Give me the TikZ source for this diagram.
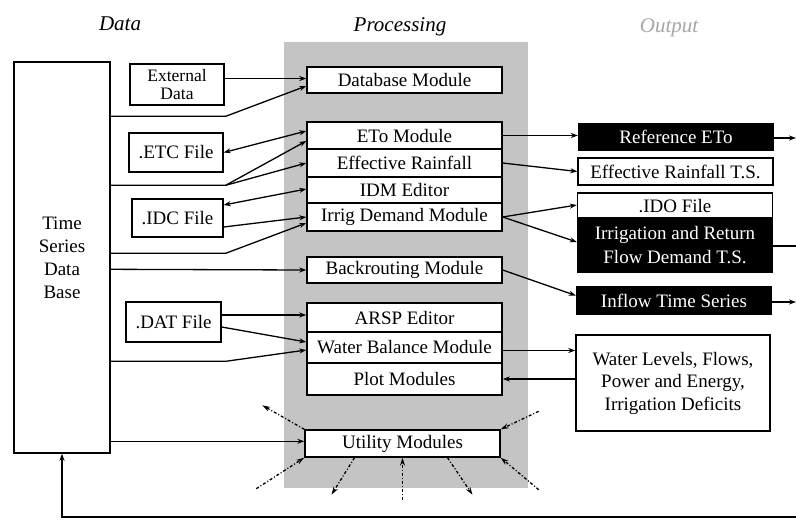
\documentclass[tikz,border=0pt]{standalone}
\usepackage{fontspec}
\setmainfont{Liberation Serif}
\usetikzlibrary{arrows.meta,calc}
\definecolor{panelgray}{RGB}{196,196,196}
\begin{document}
\begin{tikzpicture}[x=1pt,y=-1pt,
  box/.style={draw, line width=1.4pt, fill=white, inner sep=0pt, align=center, font=\fontsize{19}{23}\selectfont},
  mod/.style={box, minimum width=195pt},
  outw/.style={box, minimum width=195pt},
  outb/.style={box, fill=black, text=white, minimum width=195pt},
  arr/.style={line width=1.3pt, -{Stealth[length=7pt,width=5pt]}},
  arrb/.style={line width=1.3pt, {Stealth[length=7pt,width=5pt]}-{Stealth[length=7pt,width=5pt]}},
  darr/.style={line width=1.3pt, dash pattern=on 3pt off 2pt on 1pt off 2pt, -{Stealth[length=8pt,width=5pt]}},
  ttl/.style={font=\fontsize{21}{24}\selectfont\itshape}
]
\useasboundingbox (0,0) rectangle (796,520);
\fill[white] (0,0) rectangle (796,520);

% processing panel
\node[fill=panelgray, minimum width=244pt, minimum height=446pt, inner sep=0pt] (panel) at (406,265) {};

% titles
\node[ttl] (tdata) at (120,24) {Data};
\node[ttl] (tproc) at (400,27) {Processing};
\node[ttl, text=black!35] (tout) at (669,28) {Output};

% data column
\node[box, minimum width=96pt, minimum height=391pt] (ts) at (62,257.5) {Time\\Series\\Data\\Base};
\node[box, minimum width=94pt, minimum height=41pt, font=\fontsize{17.5}{18}\selectfont] (ext) at (177,84.5) {External\\Data};
\node[box, minimum width=94pt, minimum height=39pt] (etc) at (176,152.5) {.ETC File};
\node[box, minimum width=91pt, minimum height=38pt] (idc) at (177.5,218) {.IDC File};
\node[box, minimum width=95pt, minimum height=40pt] (dat) at (173.5,322) {.DAT File};

% processing modules
\node[mod, minimum height=26pt] (dbm) at (404.5,80) {Database Module};
\node[mod, minimum height=27pt] (eto) at (404.5,135.5) {ETo Module};
\node[mod, minimum height=28pt] (effr) at (404.5,163) {Effective Rainfall};
\node[mod, minimum height=26pt] (idm) at (404.5,190) {IDM Editor};
\node[mod, minimum height=28pt] (irr) at (404.5,217) {Irrig Demand Module};
\node[mod, minimum height=26pt] (back) at (404.5,270) {Backrouting Module};
\node[mod, minimum height=29pt] (arsp) at (404.5,317.5) {ARSP Editor};
\node[mod, minimum height=31pt] (wbm) at (404.5,347.5) {Water Balance Module};
\node[mod, minimum height=32pt] (plot) at (404.5,379) {Plot Modules};
\node[mod, minimum height=27pt] (util) at (402.5,443.5) {Utility Modules};

% outputs
\node[outb, minimum height=26pt] (refeto) at (676,137) {Reference ETo};
\node[outw, minimum height=27pt] (efft) at (675.5,171.5) {Effective Rainfall T.S.};
\node[outw, minimum height=26pt] (ido) at (675,206) {.IDO File};
\node[outb, minimum height=54pt, font=\fontsize{19}{24}\selectfont] (irrt) at (675,245) {Irrigation and Return\\Flow Demand T.S.};
\node[outb, minimum height=27pt] (inflow) at (674,300.5) {Inflow Time Series};
\node[box, minimum width=194pt, minimum height=96pt, font=\fontsize{19}{22.5}\selectfont] (wl) at (673,383) {Water Levels, Flows,\\Power and Energy,\\Irrigation Deficits};

% data -> processing
\draw[arr] ([yshift=6pt]ext.east) -- ([yshift=6pt]ext.east -| dbm.west);
\draw[arr] ([yshift=-55pt]ts.north east) -- ++(115,0) -- ([yshift=-6pt]dbm.west);
\draw[arrb] (etc.east) -- ([yshift=4.5pt]eto.west);
\draw[arr] ([yshift=-124pt]ts.north east) -- ++(115,0) -- ([yshift=-5.5pt]eto.west);
\draw[arr] ([yshift=-124pt]ts.north east) ++(115,0) -- (effr.west);
\draw[arrb] ([yshift=13pt]idc.east) -- ([yshift=1pt]idm.west);
\draw[arr] ([yshift=-9pt]idc.east) -- (irr.west);
\draw[arr] ([yshift=-192pt]ts.north east) -- ++(115,0) -- ([yshift=-6pt]irr.west);
\draw[arr] ([yshift=-208pt]ts.north east) -- (back.west);
\draw[arr] ([yshift=7pt]dat.east) -- ([yshift=7pt]dat.east -| arsp.west);
\draw[arr] ([yshift=-5pt]dat.east) -- ([yshift=5.5pt]wbm.west);
\draw[arr] ([yshift=-300pt]ts.north east) -- ++(115,0) -- ([yshift=-2.5pt]wbm.west);
\draw[arr] ([yshift=-380pt]ts.north east) -- ([yshift=-380pt]ts.north east -| util.west);

% processing -> outputs
\draw[arr] (eto.east) -- (eto.east -| refeto.west);
\draw[arr] (effr.east) -- (efft.west);
\draw[arr] (irr.east) -- ([yshift=1pt]ido.west);
\draw[arr] (irr.east) -- ([yshift=3pt]irrt.west);
\draw[arr] (back.east) -- ([yshift=5pt]inflow.west);
\draw[arr] ([yshift=-3pt]wbm.east) -- ([yshift=-3pt]wbm.east -| wl.west);
\draw[arr] (plot.east -| wl.west) -- (plot.east);

% outputs leaving to the right
\coordinate (o1) at (796,138);
\coordinate (o2) at (796,246);
\coordinate (o3) at (796,302);
\draw[arr] ([yshift=-1pt]refeto.east) -- (o1);
\draw[line width=1.3pt] ([yshift=-1pt]irrt.east) -- (o2);
\draw[arr] ([yshift=-1.5pt]inflow.east) -- (o3);

% feedback line along the bottom
\coordinate (fb) at (796,517);
\draw[arr] (fb) -- (fb -| ts.south) -- (ts.south);

% utility dotted arrows
\draw[darr] (util.north west) -- ++(-42,-24);
\draw[darr] ([shift={(-48,31)}]util.south west) -- (util.south west);
\draw[darr] ([xshift=-48pt]util.south) -- ++(-23,37);
\draw[darr] ([yshift=-42pt]util.south) -- (util.south);
\draw[darr] ([xshift=45pt]util.south) -- ++(25,37);
\draw[darr] ([shift={(38,32)}]util.south east) -- (util.south east);
\draw[darr] ([shift={(38,-18)}]util.north east) -- (util.north east);
\end{tikzpicture}
\end{document}
